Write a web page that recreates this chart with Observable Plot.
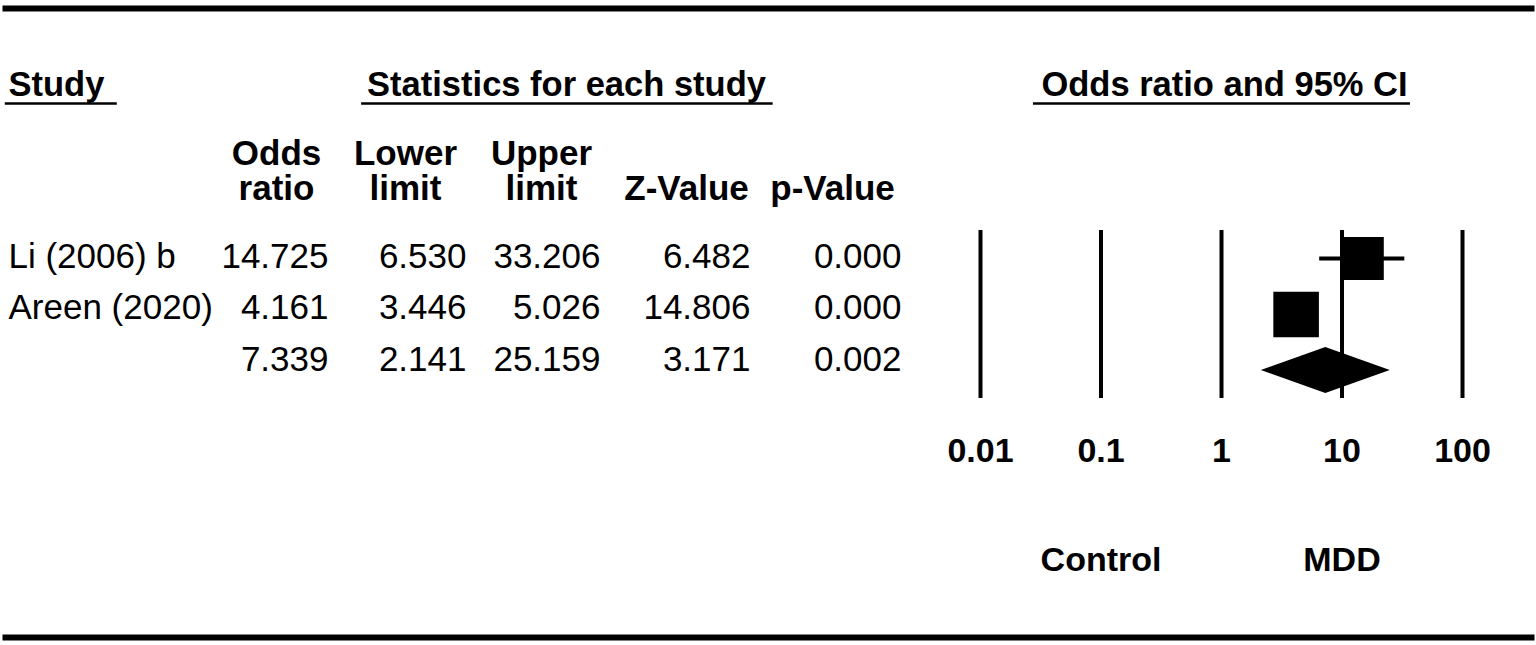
<!DOCTYPE html>
<html>
<head>
<meta charset="utf-8">
<script src="https://cdn.jsdelivr.net/npm/d3@7"></script>
<script src="https://cdn.jsdelivr.net/npm/@observablehq/plot@0.6"></script>
<style>
  html, body { margin: 0; padding: 0; background: #fff; }
  #chart { position: relative; width: 1536px; height: 645px; overflow: hidden; }
  #chart svg { position: absolute; left: 0; top: 0; max-width: none; }
</style>
</head>
<body>
<div id="chart"></div>
<script>
// ---- data ----
const studies      = ["Li (2006) b", "Areen (2020)", ""];
const oddsRatio    = [14.725, 4.161, 7.339];
const lowerLimit   = [6.530, 3.446, 2.141];
const upperLimit   = [33.206, 5.026, 25.159];
const zValue       = [6.482, 14.806, 3.171];
const pValue       = [0.000, 0.000, 0.002];
const relWeight    = [47.2, 52.8];
const columnHeaders = ["Odds\nratio", "Lower\nlimit", "Upper\nlimit", "Z-Value", "p-Value"];
const sectionTitles = ["Study", "Statistics for each study", "Odds ratio and 95% CI"];
const axisTicks    = [0.01, 0.1, 1, 10, 100];
const sideTicks    = [0.1, 10];
const sideLabels   = ["Control", "MDD"];

// ---- layout (positions / styles) ----
const FONT = "'Liberation Sans', Arial, Helvetica, sans-serif";
const colRange = [8, 328, 466, 600, 750, 901];          // study left edge, then right edges of value columns
const headerDx = [-52, -61, -59, -64, -69];             // header centre relative to column right edge
const tableRowRange = [95, 199, 267, 318.5, 370];        // baselines: section title, headers, rows 0..2
const tableUnderlines = [{x1: -0.01, x2: 0.34}, {x1: 1.24, x2: 4.15}];  // in table column units
const forestTitleLevel = -2.91;                          // title baseline in forest row units
const forestUnderline = {x1: 0.0275, x2: 37};            // underline extent on the OR axis
const underlineDy = 8;

const fmt = d3.format(".3f");
const valueCols = [oddsRatio, lowerLimit, upperLimit, zValue, pValue];
const cells = [];
studies.forEach((s, i) => valueCols.forEach((arr, j) => cells.push({row: i, col: j + 1, text: fmt(arr[i])})));

const table = Plot.plot({
  width: 1536, height: 645,
  marginTop: 8, marginBottom: 8, marginLeft: 5, marginRight: 5,
  x: {type: "linear", domain: [0, 1, 2, 3, 4, 5], range: colRange, axis: null},
  y: {type: "linear", domain: [-2, -1, 0, 1, 2], range: tableRowRange, axis: null},
  style: {fontFamily: FONT, background: "transparent", overflow: "visible"},
  marks: [
    Plot.frame({anchor: "top", stroke: "black", strokeWidth: 6}),
    Plot.frame({anchor: "bottom", stroke: "black", strokeWidth: 6}),
    Plot.text([sectionTitles[0]], {x: 0, y: -2, textAnchor: "start", lineAnchor: "bottom", fontSize: 34.5, fontWeight: "bold", fill: "black"}),
    Plot.text([sectionTitles[1]], {x: 3, y: -2, dx: -34, textAnchor: "middle", lineAnchor: "bottom", fontSize: 34.5, fontWeight: "bold", fill: "black"}),
    Plot.ruleY(tableUnderlines, {y: -2, x1: "x1", x2: "x2", dy: underlineDy, stroke: "black", strokeWidth: 2.5}),
    ...columnHeaders.map((h, j) =>
      Plot.text([h], {x: j + 1, y: -1, dx: headerDx[j], textAnchor: "middle", lineAnchor: "bottom", lineHeight: 1.0, fontSize: 35, fontWeight: "bold", fill: "black"})
    ),
    Plot.text(studies, {x: 0, y: (d, i) => i, text: d => d, textAnchor: "start", lineAnchor: "bottom", fontSize: 35, fill: "black"}),
    Plot.text(cells, {x: "col", y: "row", text: "text", textAnchor: "end", lineAnchor: "bottom", fontSize: 35, fill: "black"})
  ]
});

// ---- forest plot ----
const forestRows = studies.map((s, i) => ({row: i, or: oddsRatio[i], lo: lowerLimit[i], hi: upperLimit[i], w: relWeight[i]}));
const studyRows = forestRows.slice(0, 2);
const summary = forestRows[2];
const halfH = 0.41; // diamond half-height in row units
const diamond = [
  {x: summary.lo, y1: summary.row, y2: summary.row},
  {x: summary.or, y1: summary.row - halfH, y2: summary.row + halfH},
  {x: summary.hi, y1: summary.row, y2: summary.row}
];

const forest = Plot.plot({
  width: 1536, height: 645,
  marginTop: 95, marginBottom: 208, marginLeft: 980, marginRight: 74,
  x: {type: "log", domain: [0.01, 100], range: [980, 1462], axis: null},
  y: {type: "linear", domain: [0, 2], range: [258, 370], axis: null},
  r: {type: "sqrt", domain: [0, d3.max(relWeight)], range: [0, 25.7]},
  style: {fontFamily: FONT, fontSize: "34px", fontWeight: "bold", background: "transparent", overflow: "visible"},
  marks: [
    Plot.ruleX(axisTicks, {y1: -0.5, y2: 2.5, stroke: "black", strokeWidth: 4}),
    Plot.ruleY(studyRows, {y: "row", x1: "lo", x2: "hi", stroke: "black", strokeWidth: 4}),
    Plot.dot(studyRows, {x: "or", y: "row", r: "w", symbol: "square", fill: "black", stroke: "none"}),
    Plot.areaY(diamond, {x: "x", y1: "y1", y2: "y2", fill: "black", curve: "linear"}),
    Plot.axisX(axisTicks, {tickSize: 0, tickPadding: 0, tickFormat: d => String(d), fontSize: 34, fontWeight: "bold", fill: "black", label: null}),
    Plot.axisX(sideTicks, {tickSize: 0, tickPadding: 109, tickFormat: d => sideLabels[sideTicks.indexOf(d)], fontSize: 34, fontWeight: "bold", fill: "black", label: null}),
    Plot.text([sectionTitles[2]], {x: 1, y: forestTitleLevel, dx: 3, lineAnchor: "bottom", fontSize: 34.5, fontWeight: "bold", fill: "black"}),
    Plot.ruleY([forestUnderline], {y: forestTitleLevel, x1: "x1", x2: "x2", dy: underlineDy, stroke: "black", strokeWidth: 2.5})
  ]
});

const chart = document.getElementById("chart");
chart.appendChild(table);
chart.appendChild(forest);
</script>
</body>
</html>
